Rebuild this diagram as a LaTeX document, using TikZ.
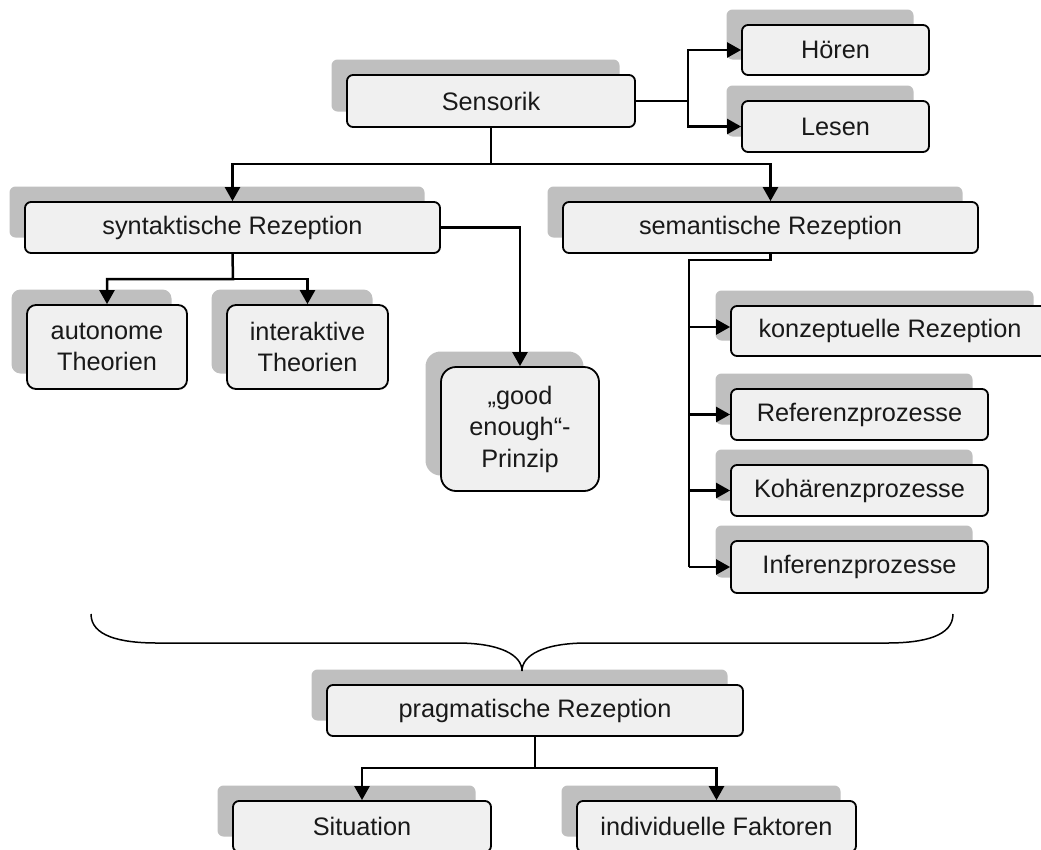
\documentclass[tikz,border=0pt]{standalone}
\usepackage{fontspec}
\setmainfont{Liberation Sans}
\usetikzlibrary{arrows.meta,shadows}
\definecolor{boxfill}{HTML}{F0F0F0}
\definecolor{shadowgray}{HTML}{BFBFBF}
\tikzset{
  box/.style={draw=black, line width=1.8pt, fill=boxfill, rounded corners=6pt,
    inner sep=0pt, align=center, text=black!90,
    font=\fontsize{25.3}{31.5}\selectfont,
    general shadow={fill=shadowgray, draw=none, shadow xshift=-15.5pt, shadow yshift=15.5pt}},
  conn/.style={line width=2.5pt},
  arr/.style={conn, -{Triangle[length=14pt,width=15pt]}},
  bracestyle/.style={line width=1.5pt},
}
\begin{document}
\begin{tikzpicture}[x=1pt,y=-1pt]
\useasboundingbox (0,0) rectangle (1041,849);
% nodes
\node[box, minimum width=288pt, minimum height=52pt] (sens) at (491,101) {Sensorik};
\node[box, minimum width=187pt, minimum height=50pt] (hoer) at (835.5,50) {Hören};
\node[box, minimum width=187pt, minimum height=51pt] (les) at (835.5,126.5) {Lesen};
\node[box, minimum width=415pt, minimum height=51pt] (syn) at (232.5,227.5) {syntaktische Rezeption};
\node[box, minimum width=415pt, minimum height=51pt] (sem) at (770.5,227.5) {semantische Rezeption};
\node[box, rounded corners=9pt, minimum width=160pt, minimum height=84pt] (auto) at (107,347) {autonome\\Theorien};
\node[box, rounded corners=9pt, minimum width=161pt, minimum height=84pt] (inter) at (307.5,347) {interaktive\\Theorien};
\node[box, rounded corners=15pt, minimum width=158pt, minimum height=124pt] (good) at (520,429) {„good\\enough“-\\Prinzip};
\node[box, minimum width=318pt, minimum height=50pt] (konz) at (890,331) {konzeptuelle Rezeption};
\node[box, minimum width=257pt, minimum height=51pt] (ref) at (859.5,414.5) {Referenzprozesse};
\node[box, minimum width=257pt, minimum height=51pt] (koh) at (859.5,490.5) {Kohärenzprozesse};
\node[box, minimum width=257pt, minimum height=52pt] (inf) at (859.5,567) {Inferenzprozesse};
\node[box, minimum width=416pt, minimum height=51pt] (prag) at (535,710.5) {pragmatische Rezeption};
\node[box, minimum width=258pt, minimum height=51pt] (sit) at (362,826.5) {Situation};
\node[box, minimum width=279pt, minimum height=51pt] (ind) at (716.5,826.5) {individuelle Faktoren};
% junction coordinates
\coordinate (sj) at (688,101);
\coordinate (sd) at (491,164);
\coordinate (syb) at (233,279);
\coordinate (sb) at (689,260);
\coordinate (sbend) at (689,567);
\coordinate (pb) at (535,768);
% connectors
\draw[conn] (sens.east) -- (sj);
\draw[arr] (sj) |- (hoer.west);
\draw[arr] (sj) |- (les.west);
\draw[arr] (sens.south) -- (sd) -| (syn.north);
\draw[arr] (sd) -| (sem.north);
\draw[arr] (syn.east) -| (good.north);
\draw[arr] (syn.south) -- (syb) -| (auto.north);
\draw[arr] (syb) -| (inter.north);
\draw[conn] (sem.south) |- (sb) -- (sbend);
\draw[arr] (sb |- konz.west) ++(0,-4) -- ([yshift=4pt]konz.west);
\draw[arr] (sb |- ref.west) -- (ref.west);
\draw[arr] (sb |- koh.west) -- (koh.west);
\draw[arr] (sbend) -- (inf.west);
\draw[arr] (prag.south) -- (pb) -| (sit.north);
\draw[arr] (pb) -| (ind.north);
% brace
\draw[bracestyle] (91,614) .. controls (91,636) and (120,643) .. (157,643) -- (457,643)
  .. controls (500,643) and (522,655) .. (522,671)
  .. controls (522,655) and (544,643) .. (587,643) -- (887,643)
  .. controls (924,643) and (953,636) .. (953,614);
\end{tikzpicture}
\end{document}
